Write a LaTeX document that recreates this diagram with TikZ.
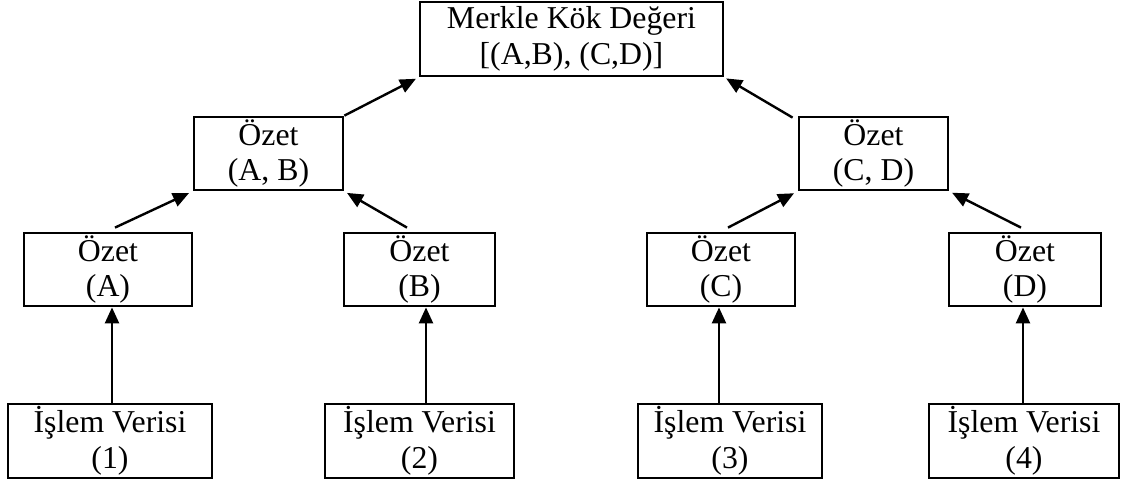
\documentclass[tikz,border=0pt]{standalone}
\usepackage{fontspec}
\setmainfont{Liberation Serif}
\usetikzlibrary{arrows.meta}
\begin{document}
\begin{tikzpicture}[x=1pt,y=-1pt,
  box/.style={draw, line width=2.8pt, inner sep=0pt, align=center,
    font=\fontsize{31.8}{35.5}\selectfont},
  arr/.style={line width=2.4pt, -{Triangle[length=16pt,width=14pt]}}]
\useasboundingbox (0,0) rectangle (1128,487);

% root of the tree
\node[box, minimum width=303pt, minimum height=74pt] (root) at (571.5,39)
  {Merkle Kök Değeri\\{}[(A,B), (C,D)]};

% second level
\node[box, minimum width=149pt, minimum height=73pt] (AB) at (268.5,153.5) {Özet\\(A, B)};
\node[box, minimum width=149pt, minimum height=73pt] (CD) at (873.5,153.5) {Özet\\(C, D)};

% leaf hashes
\node[box, minimum width=168pt, minimum height=73pt] (hA) at (108,269.5) {Özet\\(A)};
\node[box, minimum width=151pt, minimum height=73pt] (hB) at (419.5,269.5) {Özet\\(B)};
\node[box, minimum width=148pt, minimum height=73pt] (hC) at (721,269.5) {Özet\\(C)};
\node[box, minimum width=152pt, minimum height=73pt] (hD) at (1025,269.5) {Özet\\(D)};

% transaction data
\node[box, minimum width=204pt, minimum height=74pt] (t1) at (110,441) {İşlem Verisi\\(1)};
\node[box, minimum width=189pt, minimum height=74pt] (t2) at (419.5,441) {İşlem Verisi\\(2)};
\node[box, minimum width=184pt, minimum height=74pt] (t3) at (730,441) {İşlem Verisi\\(3)};
\node[box, minimum width=190pt, minimum height=74pt] (t4) at (1024,441) {İşlem Verisi\\(4)};

% data -> leaf hash
\draw[arr] ([xshift=2pt]t1.north) -- ([xshift=4pt]hA.south);
\draw[arr] ([xshift=6.5pt]t2.north) -- ([xshift=6.5pt]hB.south);
\draw[arr] ([xshift=-11pt]t3.north) -- ([xshift=-2pt]hC.south);
\draw[arr] ([xshift=-1pt]t4.north) -- ([xshift=-2pt]hD.south);

% leaf hash -> pair hash
\draw[arr, shorten >=4pt] ([xshift=7pt,yshift=4pt]hA.north) -- (AB.south west);
\draw[arr, shorten >=3pt] ([xshift=-12.5pt,yshift=4pt]hB.north) -- (AB.south east);
\draw[arr, shorten >=4pt] ([xshift=7pt,yshift=4pt]hC.north) -- (CD.south west);
\draw[arr, shorten >=3pt] ([xshift=-4pt,yshift=4pt]hD.north) -- (CD.south east);

% pair hash -> root
\draw[arr, shorten >=3pt] (AB.north east) -- (root.south west);
\draw[arr, shorten >=2pt] ([xshift=-5pt,yshift=-2pt]CD.north west) -- (root.south east);
\end{tikzpicture}
\end{document}
